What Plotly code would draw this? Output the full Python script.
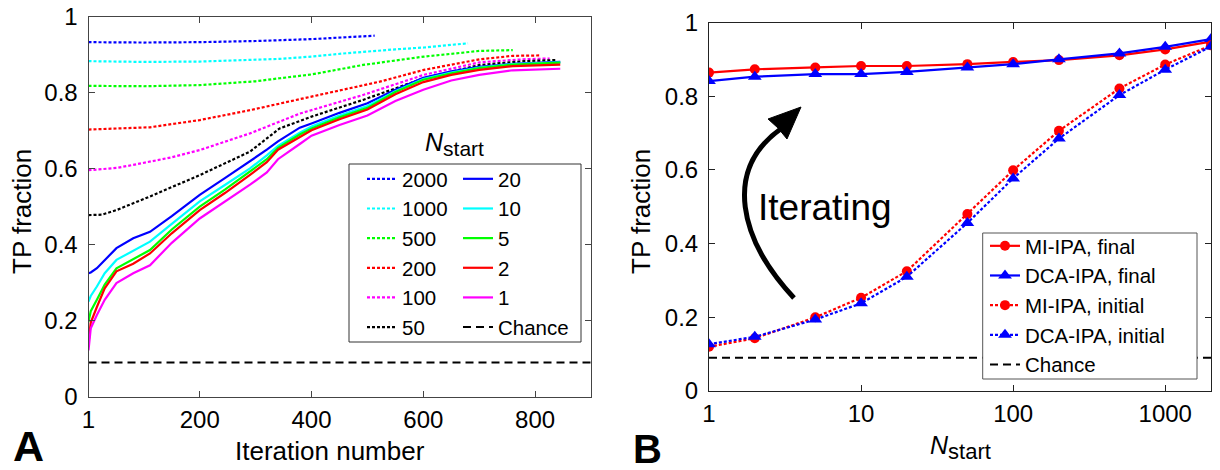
import plotly.graph_objects as go

W, H = 1220, 470

# ---------------- Panel A data (TP fraction vs iteration) ----------------
it_2000 = [1, 100, 200, 300, 400, 450, 513]
tp_2000 = [0.933, 0.932, 0.933, 0.936, 0.941, 0.945, 0.950]
it_1000 = [1, 100, 200, 300, 343, 400, 463, 550, 601, 680]
tp_1000 = [0.883, 0.881, 0.882, 0.886, 0.889, 0.895, 0.904, 0.914, 0.919, 0.930]
it_500 = [1, 100, 200, 300, 343, 400, 492, 601, 701, 760]
tp_500 = [0.818, 0.817, 0.820, 0.830, 0.838, 0.848, 0.873, 0.895, 0.910, 0.912]
it_200 = [1, 111, 200, 290, 379, 450, 522, 601, 701, 760, 808]
tp_200 = [0.703, 0.709, 0.728, 0.754, 0.783, 0.805, 0.829, 0.860, 0.888, 0.897, 0.898]
it_100 = [1, 51, 81, 150, 200, 290, 379, 450, 492, 601, 701, 780, 826]
tp_100 = [0.596, 0.602, 0.610, 0.630, 0.649, 0.693, 0.745, 0.775, 0.794, 0.847, 0.880, 0.888, 0.890]
it_50 = [1, 25, 51, 111, 200, 290, 343, 400, 492, 601, 701, 780, 838]
tp_50 = [0.478, 0.479, 0.491, 0.527, 0.583, 0.645, 0.706, 0.737, 0.781, 0.838, 0.873, 0.883, 0.886]

it_solid = [1, 5, 16, 30, 51, 81, 111, 150, 200, 245, 290, 320, 340, 379, 400, 450,
            500, 550, 600, 650, 700, 760, 845]
tp_20 = [0.325, 0.327, 0.338, 0.360, 0.391, 0.417, 0.434, 0.475, 0.531, 0.575, 0.619, 0.650,
         0.672, 0.708, 0.719, 0.747, 0.772, 0.808, 0.839, 0.856, 0.868, 0.876, 0.881]
tp_10 = [0.250, 0.265, 0.290, 0.325, 0.360, 0.385, 0.408, 0.455, 0.514, 0.557, 0.601, 0.635,
         0.660, 0.695, 0.711, 0.740, 0.765, 0.804, 0.836, 0.853, 0.866, 0.875, 0.880]
tp_5 = [0.197, 0.225, 0.255, 0.295, 0.338, 0.362, 0.386, 0.440, 0.500, 0.545, 0.592, 0.625,
        0.655, 0.690, 0.706, 0.735, 0.760, 0.802, 0.834, 0.851, 0.865, 0.874, 0.879]
tp_2 = [0.140, 0.195, 0.236, 0.285, 0.330, 0.350, 0.377, 0.430, 0.491, 0.536, 0.584, 0.617,
        0.650, 0.684, 0.701, 0.730, 0.756, 0.796, 0.828, 0.847, 0.860, 0.870, 0.874]
tp_1 = [0.122, 0.180, 0.215, 0.255, 0.299, 0.325, 0.346, 0.405, 0.469, 0.513, 0.558, 0.590,
        0.625, 0.665, 0.687, 0.715, 0.740, 0.778, 0.808, 0.832, 0.847, 0.859, 0.863]

chance = 0.09
iter_range = [1, 900]

# ---------------- Panel B data (TP fraction vs N_start) ----------------
n_start = [1, 2, 5, 10, 20, 50, 100, 200, 500, 1000, 2000]
mi_final = [0.864, 0.873, 0.878, 0.882, 0.882, 0.887, 0.893, 0.898, 0.911, 0.927, 0.948]
dca_final = [0.841, 0.853, 0.860, 0.860, 0.866, 0.878, 0.887, 0.900, 0.916, 0.934, 0.955]
mi_initial = [0.120, 0.143, 0.200, 0.253, 0.325, 0.480, 0.599, 0.706, 0.821, 0.886, 0.938]
dca_initial = [0.127, 0.147, 0.194, 0.238, 0.310, 0.456, 0.577, 0.685, 0.803, 0.872, 0.935]

y_ticks = [0, 0.2, 0.4, 0.6, 0.8, 1]
y_ticktext = ["0", "0.2", "0.4", "0.6", "0.8", "1"]
iter_ticks = [1, 200, 400, 600, 800]
n_ticks = [1, 10, 100, 1000]
n_ticktext = ["1", "10", "100", "1000"]

FONT = "Liberation Sans, Arial, sans-serif"
BLUE, CYAN, GREEN, RED, MAG, BLK = "#0000FF", "#00FFFF", "#00FF00", "#FF0000", "#FF00FF", "#000000"
LEG_FS = 20.5
DOT = "3px,2px"
DASH = "8px,5px"


def px(x):
    return x / W


def py(y):
    return 1 - y / H


fig = go.Figure()

dotted = [("2000", it_2000, tp_2000, BLUE), ("1000", it_1000, tp_1000, CYAN),
          ("500", it_500, tp_500, GREEN), ("200", it_200, tp_200, RED),
          ("100", it_100, tp_100, MAG), ("50", it_50, tp_50, BLK)]
solid = [("20", tp_20, BLUE), ("10", tp_10, CYAN), ("5", tp_5, GREEN),
         ("2", tp_2, RED), ("1", tp_1, MAG)]

for name, xs, ys, col in dotted:
    fig.add_trace(go.Scatter(x=xs, y=ys, mode="lines", name=name, legend="legend",
                             line=dict(color=col, width=2.2, dash=DOT),
                             xaxis="x", yaxis="y"))
for name, ys, col in solid:
    fig.add_trace(go.Scatter(x=it_solid, y=ys, mode="lines", name=name, legend="legend2",
                             line=dict(color=col, width=2.2),
                             xaxis="x", yaxis="y"))
fig.add_trace(go.Scatter(x=iter_range, y=[chance, chance], mode="lines", name="Chance",
                         legend="legend2", line=dict(color=BLK, width=2, dash=DASH),
                         xaxis="x", yaxis="y"))

# Panel B traces
fig.add_trace(go.Scatter(x=n_start, y=mi_final, mode="lines+markers", name="MI-IPA, final",
                         legend="legend3", line=dict(color=RED, width=2.2),
                         marker=dict(symbol="circle", size=10, color=RED),
                         xaxis="x2", yaxis="y2"))
fig.add_trace(go.Scatter(x=n_start, y=dca_final, mode="lines+markers", name="DCA-IPA, final",
                         legend="legend3", line=dict(color=BLUE, width=2.2),
                         marker=dict(symbol="triangle-up", size=12, color=BLUE),
                         xaxis="x2", yaxis="y2"))
fig.add_trace(go.Scatter(x=n_start, y=mi_initial, mode="lines+markers", name="MI-IPA, initial",
                         legend="legend3", line=dict(color=RED, width=2.2, dash=DOT),
                         marker=dict(symbol="circle", size=10, color=RED),
                         xaxis="x2", yaxis="y2"))
fig.add_trace(go.Scatter(x=n_start, y=dca_initial, mode="lines+markers", name="DCA-IPA, initial",
                         legend="legend3", line=dict(color=BLUE, width=2.2, dash=DOT),
                         marker=dict(symbol="triangle-up", size=12, color=BLUE),
                         xaxis="x2", yaxis="y2"))
fig.add_trace(go.Scatter(x=[n_start[0], n_start[-1]], y=[chance, chance], mode="lines",
                         name="Chance", legend="legend3",
                         line=dict(color=BLK, width=2, dash=DASH),
                         xaxis="x2", yaxis="y2"))

axis_common = dict(showline=True, mirror="ticks", ticks="inside", ticklen=6, tickwidth=1,
                   showgrid=False, zeroline=False, automargin=False,
                   tickfont=dict(family=FONT, size=24, color="black"))

fig.update_layout(
    width=W, height=H, margin=dict(l=0, r=0, t=0, b=0, pad=0, autoexpand=False),
    paper_bgcolor="white", plot_bgcolor="white", showlegend=True,
    font=dict(family=FONT, color="black"),
    xaxis=dict(domain=[px(88.5), px(591)], range=iter_range, tickvals=iter_ticks,
               anchor="y", linecolor="#444444", tickcolor="#444444",
               ticklabelstandoff=1, **axis_common),
    yaxis=dict(domain=[py(396.7), py(16.7)], range=[0, 1], tickvals=y_ticks,
               ticktext=y_ticktext, anchor="x", linecolor="#444444", tickcolor="#444444",
               ticklabelstandoff=5, **axis_common),
    xaxis2=dict(domain=[px(709), px(1211)], type="log", range=[0, 3.30103],
                tickvals=n_ticks, ticktext=n_ticktext, anchor="y2",
                linecolor="#222222", tickcolor="#222222", ticklabelstandoff=1, **axis_common),
    yaxis2=dict(domain=[py(391), py(22.5)], range=[0, 1], tickvals=y_ticks,
                ticktext=y_ticktext, anchor="x2", linecolor="#222222", tickcolor="#222222",
                ticklabelstandoff=5, **axis_common),
    legend=dict(x=px(362), y=py(159), xanchor="left", yanchor="top",
                bgcolor="rgba(0,0,0,0)", borderwidth=0,
                font=dict(family=FONT, size=LEG_FS, color="black")),
    legend2=dict(x=px(458), y=py(159), xanchor="left", yanchor="top",
                 bgcolor="rgba(0,0,0,0)", borderwidth=0,
                 font=dict(family=FONT, size=LEG_FS, color="black")),
    legend3=dict(x=px(985), y=py(226), xanchor="left", yanchor="top",
                 bgcolor="rgba(0,0,0,0)", borderwidth=0,
                 font=dict(family=FONT, size=LEG_FS, color="black")),
)

# legend boxes
fig.add_shape(type="rect", xref="paper", yref="paper", x0=px(349), x1=px(581),
              y0=py(342), y1=py(164), line=dict(color="#333333", width=1),
              fillcolor="white", layer="above")
fig.add_shape(type="rect", xref="paper", yref="paper", x0=px(982.7), x1=px(1197),
              y0=py(379), y1=py(233), line=dict(color="#555555", width=1),
              fillcolor="white", layer="above")


# curved "Iterating" arrow (decoration)
def pt(x, y):
    return f"{px(x):.5f},{py(y):.5f}"


arc = f"M {pt(794, 298)} C {pt(740, 240)} {pt(722, 170)} {pt(782, 128)}"
fig.add_shape(type="path", xref="paper", yref="paper", path=arc,
              line=dict(color="black", width=5), layer="above")
head = f"M {pt(801, 107)} L {pt(768, 119)} L {pt(778, 128)} L {pt(787, 139)} Z"
fig.add_shape(type="path", xref="paper", yref="paper", path=head,
              line=dict(color="black", width=1), fillcolor="black", layer="above")

ann = [
    dict(text="Iterating", x=px(825), y=py(207), font=dict(size=37)),
    dict(text="<i>N</i><sub><span style='font-size:21px'>start</span></sub>",
         x=px(454), y=py(144), font=dict(size=25)),
    dict(text="Iteration number", x=px(330), y=py(451), font=dict(size=26)),
    dict(text="<i>N</i><sub><span style='font-size:22px'>start</span></sub>",
         x=px(960), y=py(447), font=dict(size=25)),
    dict(text="TP fraction", x=px(22), y=py(212), textangle=-90, font=dict(size=26)),
    dict(text="TP fraction", x=px(641), y=py(212), textangle=-90, font=dict(size=26)),
    dict(text="<b>A</b>", x=px(28), y=py(446), font=dict(size=43)),
    dict(text="<b>B</b>", x=px(648), y=py(449), font=dict(size=40)),
]
for a in ann:
    f = dict(family=FONT, color="black")
    f.update(a.pop("font"))
    fig.add_annotation(xref="paper", yref="paper", xanchor="center", yanchor="middle",
                       showarrow=False, font=f, **a)

fig.write_html("out.html", config={"displayModeBar": False},
               post_script="document.body.style.margin='0';document.body.style.overflow='hidden';")
